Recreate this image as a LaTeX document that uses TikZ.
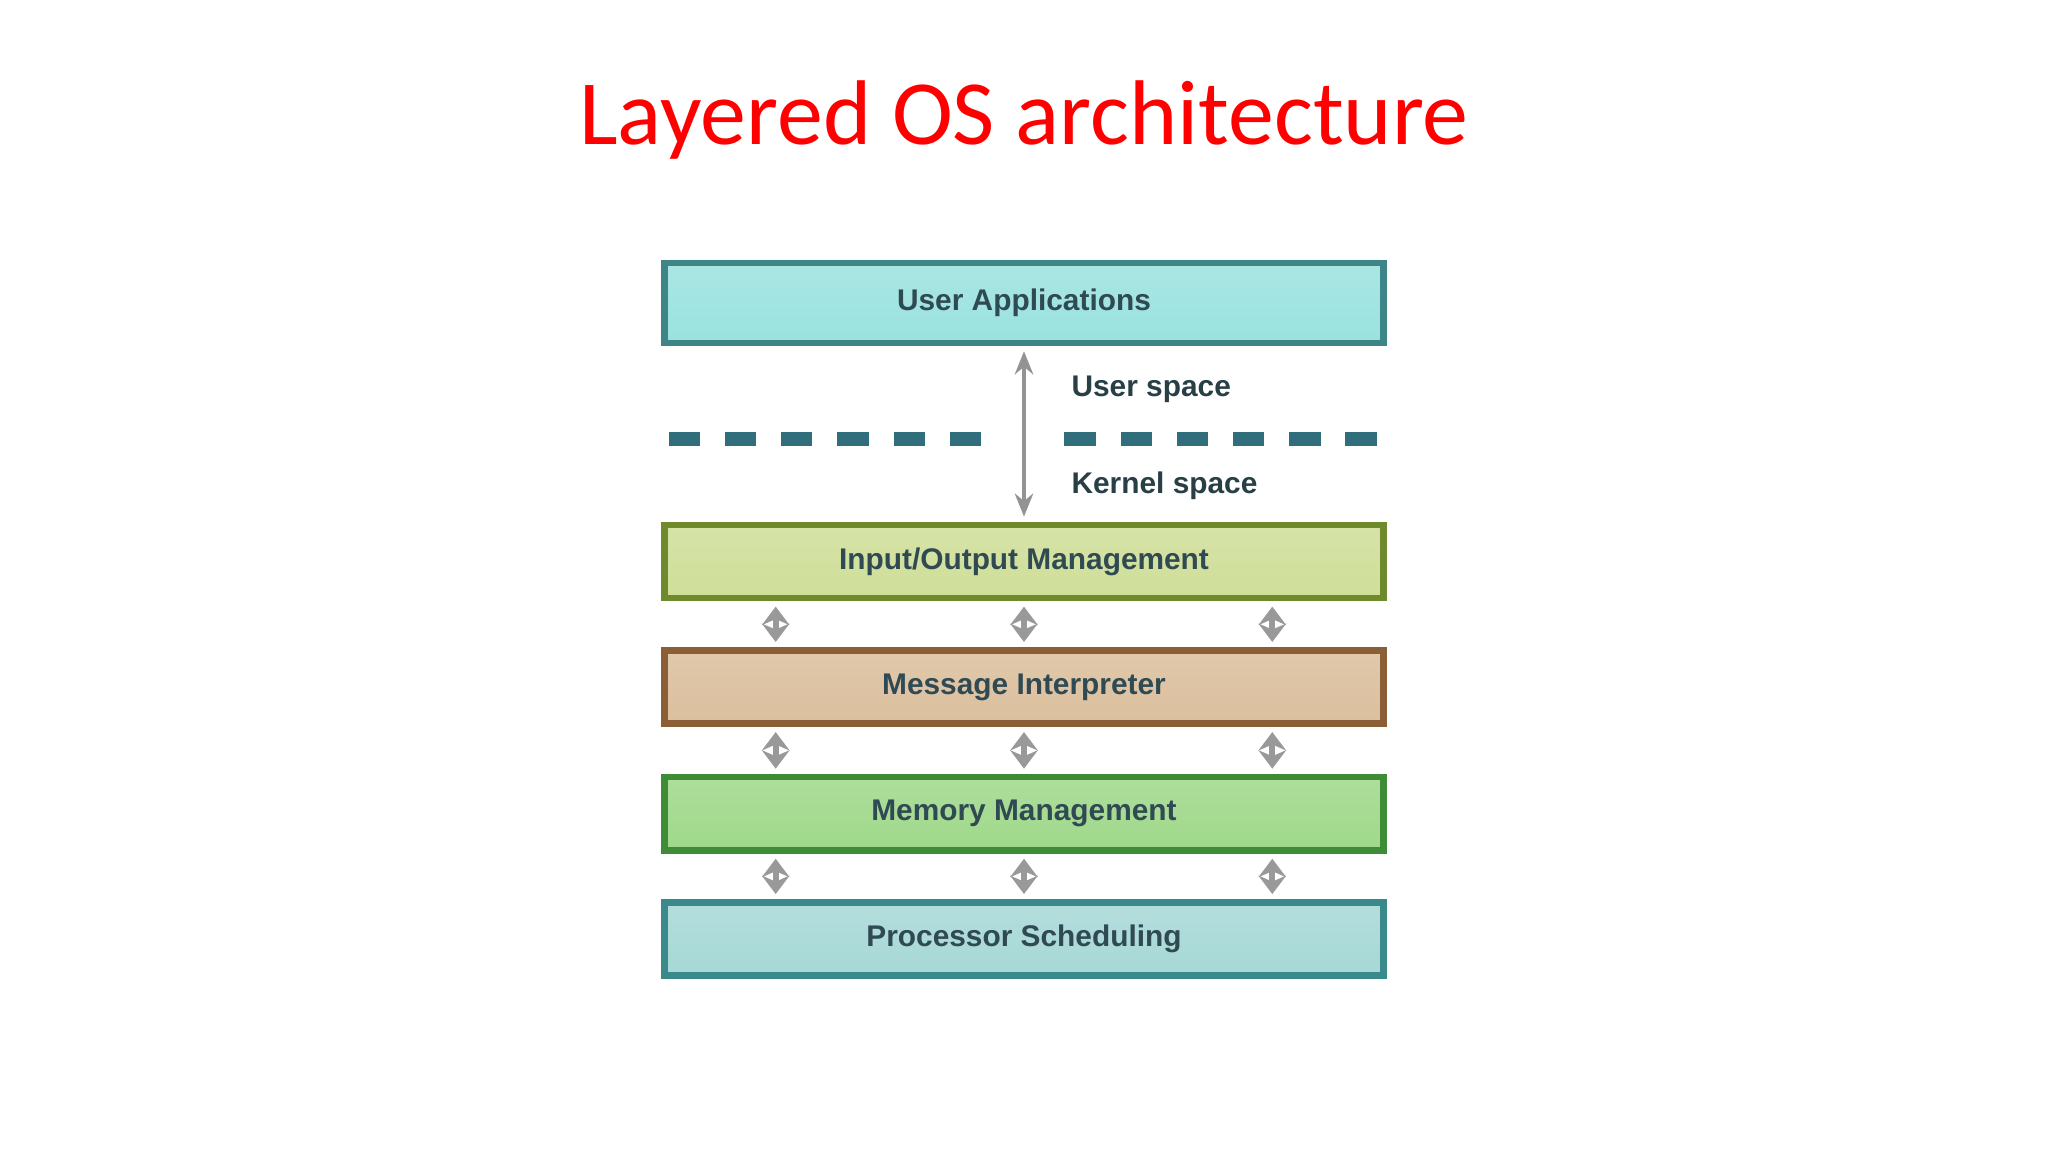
\documentclass[tikz,border=0pt]{standalone}
\usepackage{fontspec}
\setmainfont{Liberation Sans}
\newfontfamily\titlefont{Carlito}
\usetikzlibrary{arrows.meta,positioning,calc}
\definecolor{uaFill}{HTML}{9AE2DF}
\definecolor{uaEdge}{HTML}{3E8587}
\definecolor{ioFill}{HTML}{CFDE98}
\definecolor{ioEdge}{HTML}{6E8A2C}
\definecolor{miFill}{HTML}{DBBF9D}
\definecolor{miEdge}{HTML}{8C5E36}
\definecolor{mmFill}{HTML}{9FD88A}
\definecolor{mmEdge}{HTML}{3F8C37}
\definecolor{psFill}{HTML}{A6D8D6}
\definecolor{psEdge}{HTML}{3A8A8C}
\definecolor{txtCol}{HTML}{2F4A52}
\definecolor{dashCol}{HTML}{2F6E7A}
\tikzset{
  layer/.style={draw=#1Edge, line width=1.4pt, top color=#1Fill!85!white,
    bottom color=#1Fill, minimum width=5.5cm, minimum height=0.56cm,
    inner sep=0pt, font=\bfseries\fontsize{6.5}{8}\selectfont, text=txtCol},
  dblarrow/.style={{Stealth[length=4pt,width=6pt]}-{Stealth[length=4pt,width=6pt]},
    draw=gray!80, line width=1.3pt},
  spacearrow/.style={{Stealth[length=5pt,width=4pt]}-{Stealth[length=5pt,width=4pt]},
    draw=gray!85, line width=0.8pt},
  spacelabel/.style={font=\bfseries\fontsize{6.5}{8}\selectfont, text=txtCol!85!black, anchor=west}
}
\begin{document}
\begin{tikzpicture}[x=0.01cm,y=-0.01cm]
  \useasboundingbox (0,0) rectangle (1568,882);
  %title
  \node[text=red, font=\titlefont\fontsize{20}{24}\selectfont] (title) at (784,92) {Layered OS architecture};
  %the layers, top to bottom
  \node[layer=ua, minimum height=0.61cm] (ua) at (784,232) {User Applications};
  \node[layer=io] (io) at (784,430) {Input/Output Management};
  \node[layer=mi] (mi) at (784,526) {Message Interpreter};
  \node[layer=mm] (mm) at (784,623) {Memory Management};
  \node[layer=ps] (ps) at (784,719) {Processor Scheduling};
  %user / kernel boundary
  \coordinate (dl1) at (512,336);
  \coordinate (dl2) at (757,336);
  \coordinate (dr1) at (815,336);
  \coordinate (dr2) at (1058,336);
  \draw[dashCol, line width=3.2pt, dash pattern=on 0.24cm off 0.19cm] (dl1) -- (dl2);
  \draw[dashCol, line width=3.2pt, dash pattern=on 0.24cm off 0.19cm] (dr1) -- (dr2);
  \draw[spacearrow] ([yshift=-0.04cm]ua.south) -- ([yshift=0.04cm]io.north);
  \node[spacelabel] (us) at (808,298) {User space};
  \node[spacelabel] (ks) at (808,372) {Kernel space};
  %arrows between the kernel layers
  \foreach \a/\b in {io/mi, mi/mm, mm/ps}
    \foreach \dx in {-1.9cm, 0cm, 1.9cm}
      \draw[dblarrow] ([xshift=\dx, yshift=-0.04cm]\a.south) -- ([xshift=\dx, yshift=0.04cm]\b.north);
\end{tikzpicture}
\end{document}
